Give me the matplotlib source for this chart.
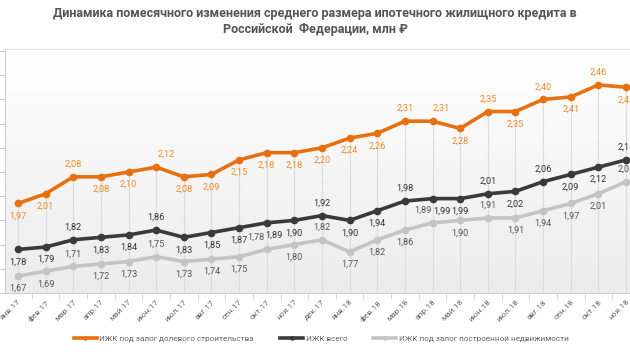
import matplotlib
matplotlib.use('Agg')
import matplotlib.pyplot as plt
import numpy as np

months = ['янв.17', 'фев.17', 'мар.17', 'апр.17', 'май.17', 'июн.17', 'июл.17', 'авг.17',
          'сен.17', 'окт.17', 'ноя.17', 'дек.17', 'янв.18', 'фев.18', 'мар.18', 'апр.18',
          'май.18', 'июн.18', 'июл.18', 'авг.18', 'сен.18', 'окт.18', 'ноя.18']

shared = [1.97, 2.01, 2.08, 2.08, 2.10, 2.12, 2.08, 2.09, 2.15, 2.18, 2.18, 2.20,
          2.24, 2.26, 2.31, 2.31, 2.28, 2.35, 2.35, 2.40, 2.41, 2.46, 2.45]
total = [1.78, 1.79, 1.82, 1.83, 1.84, 1.86, 1.83, 1.85, 1.87, 1.89, 1.90, 1.92,
         1.90, 1.94, 1.98, 1.99, 1.99, 2.01, 2.02, 2.06, 2.09, 2.12, 2.15]
built = [1.67, 1.69, 1.71, 1.72, 1.73, 1.75, 1.73, 1.74, 1.75, 1.78, 1.80, 1.82,
         1.77, 1.82, 1.86, 1.89, 1.90, 1.91, 1.91, 1.94, 1.97, 2.01, 2.06]

series_names = ['ИЖК под залог долевого строительства', 'ИЖК всего',
                'ИЖК под залог построенной недвижимости']

# label placement: 1 above, -1 below
pos_shared = [-1, -1, 1, -1, -1, 1, -1, -1, -1, -1, -1, -1,
              -1, -1, 1, 1, -1, 1, -1, 1, -1, 1, -1]
pos_total = [-1, -1, 1, -1, -1, 1, -1, -1, -1, -1, -1, 1,
             -1, -1, 1, -1, -1, 1, -1, 1, -1, -1, 1]
pos_built = [-1, -1, 1, -1, -1, 1, -1, -1, -1, 1, -1, 1,
             -1, -1, -1, 1, -1, 1, -1, -1, -1, -1, 1]
# labels nudged sideways to avoid collisions (index -> points)
shift_shared = {5: 7, 15: 6}
shift_total = {9: 5.5, 15: 7}
shift_built = {9: -8, 15: -7}

plt.rcParams['font.family'] = ['Roboto', 'DejaVu Sans']

fig = plt.figure(figsize=(6.3, 3.55), dpi=100)
fig.patch.set_facecolor('white')

ax = fig.add_axes([5 / 630, 62 / 355, 625 / 630, 242 / 355])
x = np.arange(len(months))
ax.set_xlim(-13 / 27.7, len(months) - 1 + 4 / 27.7)
ax.set_ylim(1.6, 2.6)

# soft gradient background
grad = np.linspace(0, 1, 256).reshape(-1, 1)
ax.imshow(grad, extent=[ax.get_xlim()[0], ax.get_xlim()[1], 1.6, 2.6], aspect='auto',
          cmap=matplotlib.colors.LinearSegmentedColormap.from_list('bg', ['#ececec', '#ffffff']),
          origin='lower', zorder=0)

for xi, v in zip(x, shared):
    ax.plot([xi, xi], [1.6, v], color='#dcdcdc', lw=0.8, zorder=1)

colors = ['#e8700f', '#3a3a3a', '#c4c4c4']
text_colors = ['#f08a2a', '#333333', '#555555']
data = [shared, total, built]
positions = [pos_shared, pos_total, pos_built]
shifts = [shift_shared, shift_total, shift_built]
for vals, c, tc, pp, sh, name in zip(data, colors, text_colors, positions, shifts, series_names):
    ax.plot(x, vals, color=c, lw=2.6, marker='o', ms=4.5, zorder=3, label=name)
    for i, (xi, v, p) in enumerate(zip(x, vals, pp)):
        ax.annotate(f'{v:.2f}'.replace('.', ','), (xi, v), xytext=(sh.get(i, 0), 9 * p),
                    textcoords='offset points', ha='center', va='center',
                    fontsize=6.6, color=tc, zorder=4)

for s in ['top', 'right']:
    ax.spines[s].set_visible(False)
ax.spines['left'].set_color('#cccccc')
ax.spines['bottom'].set_color('#cccccc')
ax.set_yticks(np.arange(1.6, 2.61, 0.1))
ax.set_yticklabels([])
ax.tick_params(axis='y', length=4, color='#cccccc', direction='out')
ax.set_xticks(x)
ax.set_xticklabels(months, rotation=45, ha='right', rotation_mode='anchor',
                   fontsize=6, color='#666666')
ax.tick_params(axis='x', length=0, pad=4)
ax.set_xticks(x[:-1] + 0.5, minor=True)
ax.tick_params(axis='x', which='minor', length=4, color='#cccccc')

fig.add_artist(plt.Line2D([0.005, 1], [1 - 49 / 355, 1 - 49 / 355], color='#e0e0e0', lw=0.8))

fig.text(0.5, 1 - 13 / 355, 'Динамика помесячного изменения среднего размера ипотечного жилищного кредита в',
         ha='center', va='center', fontsize=9, fontweight='bold', color='#555555')
fig.text(0.5, 1 - 29 / 355, 'Российской  Федерации, млн ₽',
         ha='center', va='center', fontsize=9, fontweight='bold', color='#555555')

fig.legend(loc='center', bbox_to_anchor=(0.51, 1 - 339 / 355), ncol=3, frameon=False,
           fontsize=5.9, labelcolor='#666666', handlelength=2.8, handletextpad=0.3,
           columnspacing=3.2, markerscale=0.5)

fig.savefig('out.png', dpi=100, facecolor='white')
